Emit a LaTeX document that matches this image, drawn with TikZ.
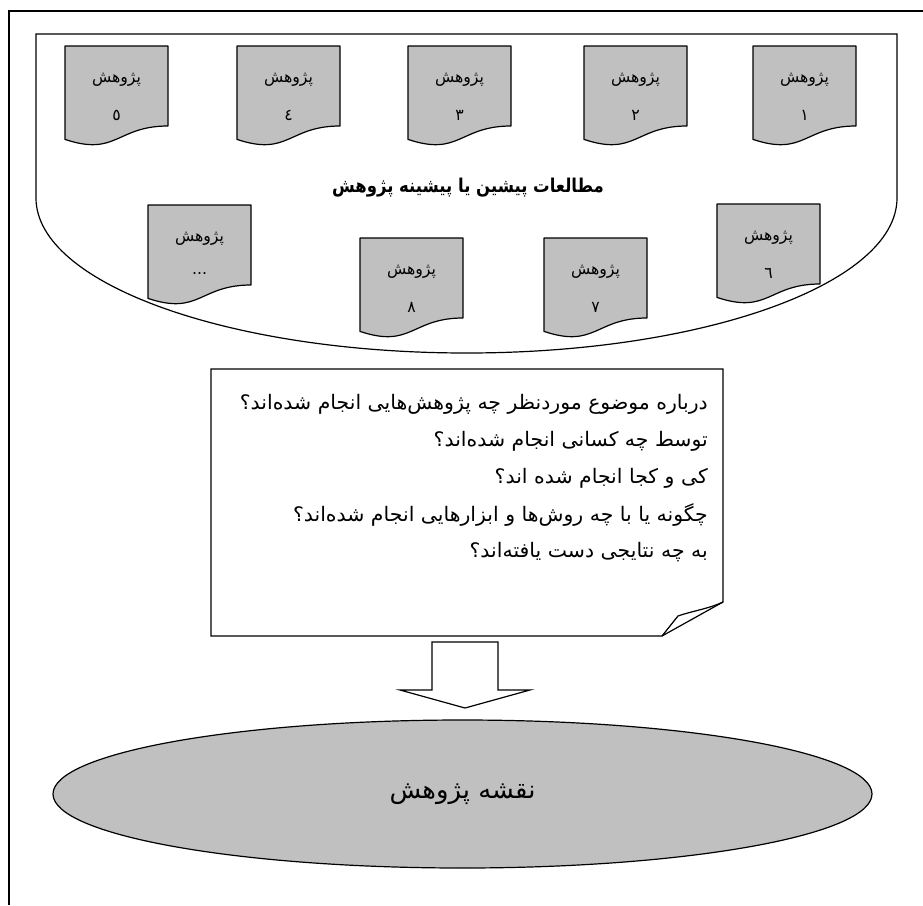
\documentclass[tikz,border=0pt]{standalone}
\usepackage{fontspec}
\usepackage{graphicx}
\usetikzlibrary{shapes.geometric}
\TeXXeTstate=1
\newfontfamily\arabicfont[Script=Arabic]{DejaVu Sans}
\definecolor{docgray}{HTML}{C0C0C0}
\newlength\fitlen
% scale #2 horizontally so that it is #1 pt wide
\newcommand\fitw[2]{\settowidth\fitlen{#2}\pgfmathsetmacro\fitscale{#1/\fitlen}\scalebox{\fitscale}[1]{#2}}
\newcommand\qfont{\arabicfont\fontsize{20}{24}\selectfont}
\newcommand\dfont{\arabicfont\fontsize{16}{18}\selectfont}
\newcommand\qline[1]{\scalebox{\qscale}[1]{\qfont\beginR #1\endR}}
\newcommand\dline[1]{\scalebox{\dscale}[1]{\dfont #1}}
\tikzset{
  line/.style={draw=black, line width=1.2pt},
  docbox/.style={line, fill=docgray, line join=round},
  doctext/.style={inner sep=0pt},
  boxtext/.style={inner sep=0pt, anchor=east},
}
\newcommand\researchdoc[4]{%
  \begin{scope}[shift={(#1,#2)}]
    \path[docbox] (0,0) -- (103,0) -- (103,80) .. controls (51.5,80) and (51.5,110.7) .. (0,93.4) -- cycle;
    \node[doctext] (#4t) at (51.5,34) {\dline{\beginR پژوهش\endR}};
    \node[doctext] (#4n) at (51.5,69) {\dline{#3}};
  \end{scope}}
\begin{document}
\settowidth\fitlen{\qfont\beginR درباره موضوع موردنظر چه پژوهش‌هایی انجام شده‌اند؟\endR}%
\pgfmathsetmacro\qscale{468/\fitlen}%
\settowidth\fitlen{\dfont\beginR پژوهش\endR}%
\pgfmathsetmacro\dscale{49/\fitlen}%
\begin{tikzpicture}[x=1pt,y=-1pt]
\useasboundingbox (0,0) rectangle (923,905);
% outer frame (continues beyond the picture)
\draw[line width=1.3pt] (923,11) -- (9,11) -- (9,905);
% container
\draw[line] (466.5,198) coordinate (cc)
  (36,198) -- (36,34) -- (897,34) -- (897,198) arc[start angle=0, end angle=180, x radius=430.5, y radius=155];
% top row
\researchdoc{65}{46}{\beginR ٥\endR}{d5}
\researchdoc{237}{46}{\beginR ٤\endR}{d4}
\researchdoc{408}{46}{\beginR ٣\endR}{d3}
\researchdoc{584}{46}{\beginR ٢\endR}{d2}
\researchdoc{753}{46}{\beginR ١\endR}{d1}
% title
\node[inner sep=0pt] (title) at (468,188) {\fitw{272}{\arabicfont\bfseries\fontsize{19}{22}\selectfont\beginR مطالعات پیشین یا پیشینه پژوهش\endR}};
% bottom row
\researchdoc{148}{205}{...}{dx}
\researchdoc{360}{238}{\beginR ٨\endR}{d8}
\researchdoc{544}{238}{\beginR ٧\endR}{d7}
\researchdoc{717}{204}{\beginR ٦\endR}{d6}
% question box with folded corner
\path[line] (211,369) coordinate (bnw) -- (723,369) -- (723,602) coordinate (bfr) -- (662,636) coordinate (bfb) -- (211,636) -- cycle;
\path[line, line join=round] (bfb) -- (678,616) .. controls (692,611) and (708,609) .. (bfr);
\node[boxtext] (q1) at (708,404) {\qline{درباره موضوع موردنظر چه پژوهش‌هایی انجام شده‌اند؟}};
\node[boxtext] (q2) at (708,441) {\qline{توسط چه کسانی انجام شده‌اند؟}};
\node[boxtext] (q3) at (708,478) {\qline{کی و کجا انجام شده اند؟}};
\node[boxtext] (q4) at (708,515) {\qline{چگونه یا با چه روش‌ها و ابزارهایی انجام شده‌اند؟}};
\node[boxtext] (q5) at (708,552) {\qline{به چه نتایجی دست یافته‌اند؟}};
% block arrow
\path[line, fill=white, line join=miter] (432,642) -- (498,642) -- (498,690) -- (530,690) -- (465,708) -- (400,690) -- (432,690) -- cycle;
% ellipse
\node[draw, line width=1.2pt, ellipse, fill=docgray, minimum width=819pt, minimum height=148pt, inner sep=0pt] (map) at (462.5,794)
  {\fitw{146}{\arabicfont\fontsize{25}{29}\selectfont\beginR نقشه پژوهش\endR}};
\end{tikzpicture}
\end{document}
